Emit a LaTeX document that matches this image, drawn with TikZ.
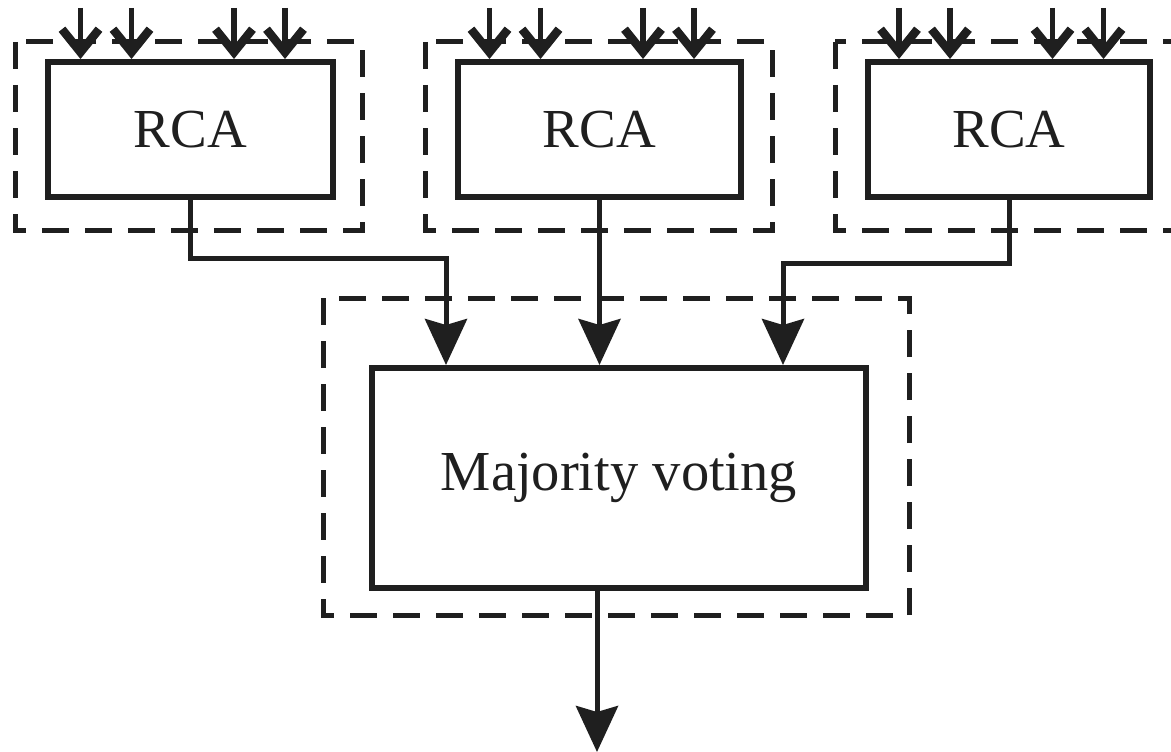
\documentclass[tikz,border=0pt]{standalone}
\usepackage{fontspec}
\setmainfont{Liberation Serif}
\usetikzlibrary{arrows.meta}
\begin{document}
\begin{tikzpicture}[x=1pt,y=-1pt,
  blockbox/.style={draw=black!88,line width=6pt,rectangle,inner sep=0pt,
    font=\fontsize{55}{60}\selectfont,text=black!88},
  groupbox/.style={draw=black!88,line width=5pt,dash pattern=on 27pt off 16pt},
  conn/.style={draw=black!88,line width=5pt},
  inarrow/.style={conn,line width=5.5pt,-{Straight Barb[length=23pt,width=37pt,line width=8.5pt 0]}},
  bigarrow/.style={conn,-{Stealth[length=46pt,width=42pt,inset=6pt]}}]
\clip (0,0) rectangle (1171,752);
\useasboundingbox (0,0) rectangle (1171,752);
\fill[white] (0,0) rectangle (1171,752);
% dashed groups
\draw[groupbox] (15,42) rectangle (362,230);
\draw[groupbox] (425,42) rectangle (772,230);
\draw[groupbox] (835,42) rectangle (1190,230);
\draw[groupbox] (323,298) rectangle (909,615);
% blocks
\node[blockbox,minimum width=285pt,minimum height=135pt] (r1) at (190.5,129.5) {RCA};
\node[blockbox,minimum width=283pt,minimum height=135pt] (r2) at (599.5,129.5) {RCA};
\node[blockbox,minimum width=282pt,minimum height=135pt] (r3) at (1009,129.5) {RCA};
\node[blockbox,minimum width=494pt,minimum height=220pt,font=\fontsize{56.5}{62}\selectfont] (mv) at (619,478) {Majority voting};
% inputs
\foreach \b/\c in {1/190.5,2/599.5,3/1009}{
  \foreach \k/\o in {a/-110,b/-59,c/43.5,d/94.5}{
    \coordinate (in\b\k) at (\c+\o,8);
    \draw[inarrow] (in\b\k) -- (r\b.north -| in\b\k);
  }
}
% connections to voter
\coordinate (t1) at (446,258);
\coordinate (t3) at (783,263);
\coordinate (out) at (597,752);
\draw[bigarrow] (r1.south) |- (t1) -- (mv.north -| t1);
\draw[bigarrow] (r2.south) -- (mv.north -| r2.south);
\draw[bigarrow] (r3.south) |- (t3) -- (mv.north -| t3);
\draw[bigarrow] (mv.south -| out) -- (out);
\end{tikzpicture}
\end{document}
